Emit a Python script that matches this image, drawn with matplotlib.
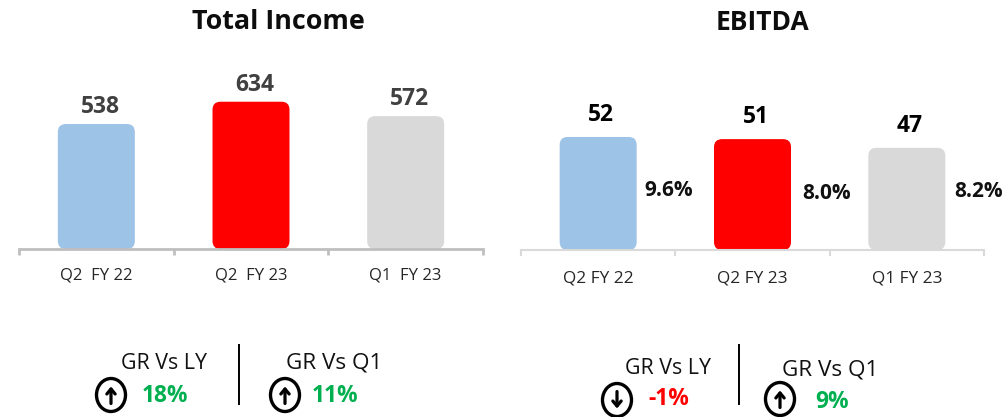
import matplotlib
matplotlib.use("Agg")
import matplotlib.pyplot as plt
from matplotlib.patches import FancyBboxPatch, Ellipse

W, H = 1007, 417
FONT = "Open Sans"
plt.rcParams["font.family"] = [FONT, "DejaVu Sans"]

left_ticks = ["Q2  FY 22", "Q2  FY 23", "Q1  FY 23"]
right_ticks = ["Q2 FY 22", "Q2 FY 23", "Q1 FY 23"]
income = [538, 634, 572]
ebitda = [52, 51, 47]
margins = ["9.6%", "8.0%", "8.2%"]
bar_colors = ["#9dc3e6", "#ff0000", "#d9d9d9"]

fig = plt.figure(figsize=(W / 100, H / 100), dpi=100)


def panel(x0, x1, base, top, ymax, values, ticks, axis_color, axis_lw, label_color, dx, dy, tick_size, tick_pad):
    ax = fig.add_axes([x0 / W, 1 - base / H, (x1 - x0) / W, (base - top) / H])
    ax.set_xlim(-0.5, 2.5)
    ax.set_ylim(0, ymax)
    ax.patch.set_alpha(0)
    for s in ("top", "left", "right"):
        ax.spines[s].set_visible(False)
    ax.spines["bottom"].set_color(axis_color)
    ax.spines["bottom"].set_linewidth(axis_lw)
    ax.set_yticks([])
    ax.set_xticks(range(3))
    ax.set_xticklabels(ticks, fontsize=tick_size, color="#262626")
    ax.tick_params(axis="x", which="major", length=0, pad=tick_pad)
    ax.set_xticks([-0.5, 0.5, 1.5, 2.5], minor=True)
    ax.tick_params(axis="x", which="minor", length=4, width=axis_lw, color=axis_color)
    px_x = (x1 - x0) / 3
    px_y = (base - top) / ymax
    radius = 8 / px_x
    bars = ax.bar(range(3), values, width=77 / px_x, alpha=0)
    for b, c, v, i in zip(bars, bar_colors, values, range(3)):
        pad_y = 8 / px_y
        ax.add_patch(FancyBboxPatch(
            (b.get_x() + radius, pad_y),
            b.get_width() - 2 * radius, v - 2 * pad_y + 0,
            boxstyle=f"round,pad={radius},rounding_size={radius}",
            mutation_aspect=(1 / px_y) / (1 / px_x),
            fc=c, ec="none"))
        ax.annotate(str(v), (i, v), xytext=(dx, dy), textcoords="offset pixels",
                    ha="center", va="center", fontsize=16.5, fontweight="bold",
                    color=label_color)
    return ax


panel(19, 483, 249, 60, 813.6, income, left_ticks, "#bfbfbf", 2.0, "#404040", 4, 17, 12, 13.5)
panel(521, 984, 250, 60, 87.4, ebitda, right_ticks, "#d9d9d9", 1.5, "#000000", 3, 22, 12.4, 14.5)

ov = fig.add_axes([0, 0, 1, 1])
ov.set_xlim(0, W)
ov.set_ylim(H, 0)
ov.axis("off")
ov.patch.set_alpha(0)


def t(x, y, s, ha="left", size=13.2, weight="normal", color="#111111"):
    ov.text(x, y, s, ha=ha, va="center", fontsize=size, fontweight=weight, color=color)


t(278, 21.5, "Total Income", ha="center", size=19.4, weight="bold", color="#0d0d0d")
t(763, 22, "EBITDA", ha="center", size=19, weight="bold", color="#0d0d0d")

for x, y, s in zip([669, 827, 979], [190, 193, 191], margins):
    t(x, y, s, ha="center", size=15, weight="bold", color="#111111")

GREEN = "#00b050"
RED = "#ff0000"
t(121, 363.5, "GR Vs LY", size=15.4)
t(286, 363.5, "GR Vs Q1", size=16.2)
t(142, 396.5, "18%", size=16.4, weight="bold", color=GREEN)
t(312, 396.5, "11%", size=16.4, weight="bold", color=GREEN)
t(625, 369, "GR Vs LY", size=15.4)
t(782, 370, "GR Vs Q1", size=16.2)
t(648, 399, "-1%", size=16.4, weight="bold", color=RED)
t(815, 401.5, "9%", size=16.4, weight="bold", color=GREEN)

for x in (239, 739):
    ov.plot([x, x], [344, 405], color="black", lw=1.4, solid_capstyle="butt")


def arrow_badge(cx, cy, up):
    ov.add_patch(Ellipse((cx, cy), 29, 33, fc="white", ec="black", lw=2.4))
    a, b = (cy + 8.5, cy - 8.5) if up else (cy - 8.5, cy + 8.5)
    ov.annotate("", xy=(cx, b), xytext=(cx, a),
                arrowprops=dict(arrowstyle="->,head_width=0.3,head_length=0.36",
                                color="black", lw=2.3, shrinkA=0, shrinkB=0))


arrow_badge(111, 395, True)
arrow_badge(285, 395, True)
arrow_badge(617, 400, False)
arrow_badge(780, 399, True)

fig.savefig("out.png", dpi=100)
